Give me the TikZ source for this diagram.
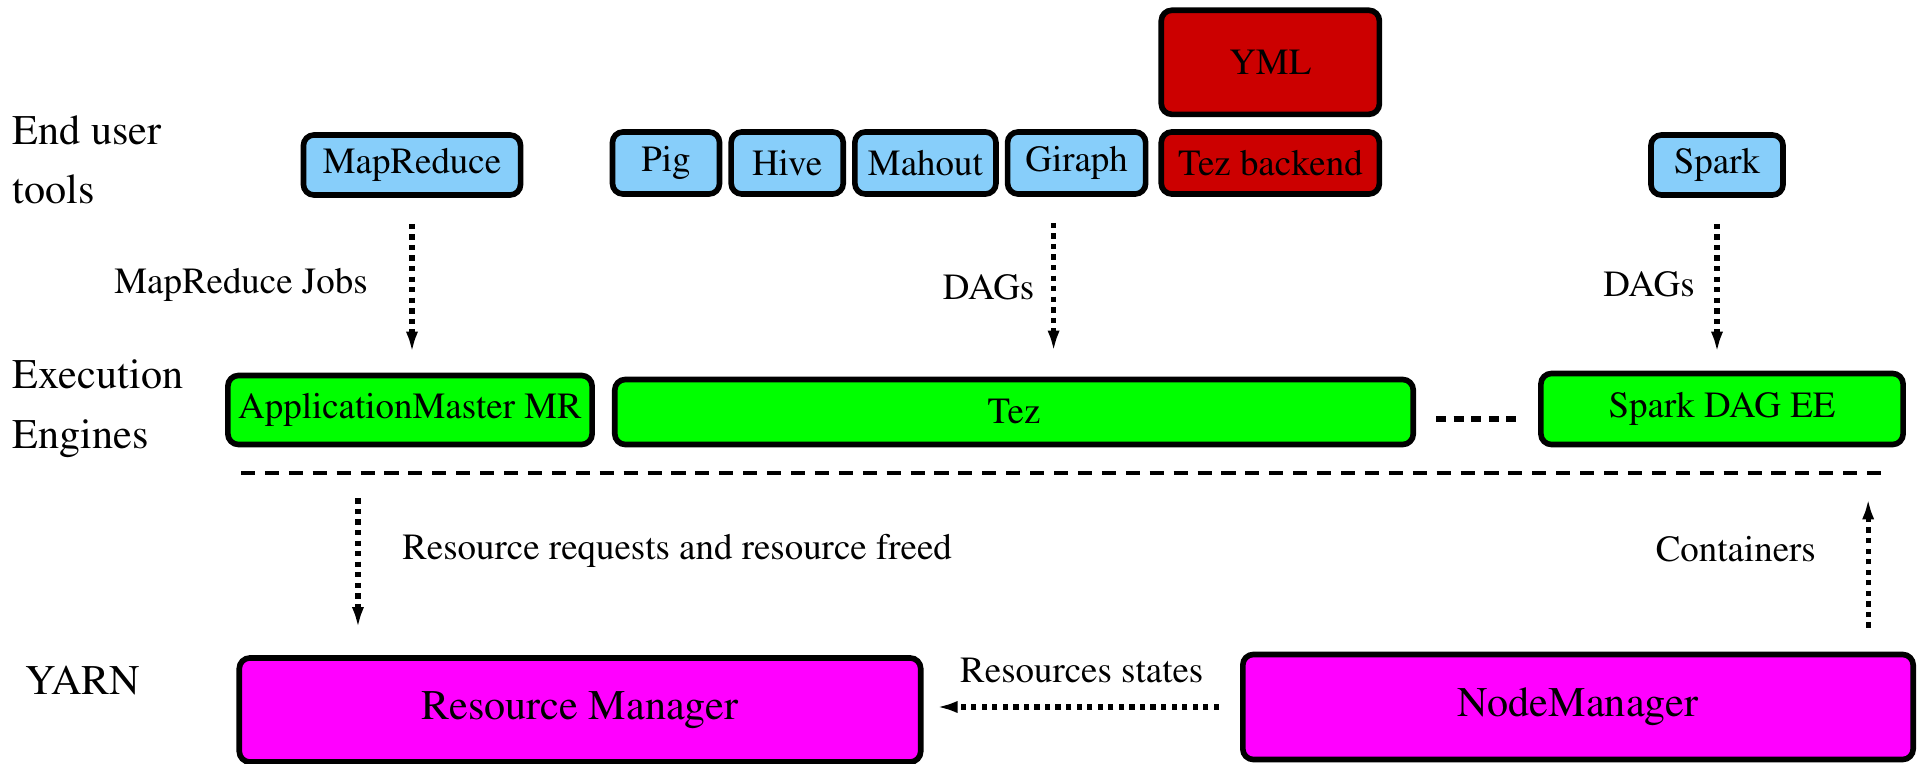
\documentclass[tikz,border=0pt]{standalone}
\usepackage[T1]{fontenc}
\usepackage{times}
\usetikzlibrary{positioning,arrows.meta}

\definecolor{toolblue}{RGB}{135,206,250}
\definecolor{tezred}{RGB}{204,0,0}
\definecolor{enginegreen}{RGB}{0,255,0}
\definecolor{yarnpink}{RGB}{255,0,255}

\begin{document}
\begin{tikzpicture}[x=0.01cm, y=-0.01cm,
	box/.style={draw, line width=1.6pt, rounded corners=3pt, inner sep=0pt, font=\fontsize{10.5}{12}\selectfont},
	tool/.style={box, fill=toolblue, minimum height=0.6cm},
	backend/.style={box, fill=tezred, minimum width=2.18cm},
	engine/.style={box, fill=enginegreen},
	yarn/.style={box, fill=yarnpink, font=\fontsize{12}{14}\selectfont},
	layer/.style={align=left, anchor=west, inner sep=0pt, font=\fontsize{12}{17}\selectfont},
	lbl/.style={font=\fontsize{10.5}{12}\selectfont},
	flow/.style={line width=1.5pt, dash pattern=on 1.5pt off 1.5pt, -{Latex[length=6pt,width=3.5pt]}},
	divider/.style={line width=1.1pt, dash pattern=on 4pt off 2.8pt}
]
	\useasboundingbox (0,0) rectangle (1921,764);

	% layer names
	\node[layer] (enduser) at (12,160) {End user\\tools};
	\node[layer] (exec) at (12,409) {Execution\\Engines};
	\node[layer] (yarnname) at (25,680) {YARN};

	% end user tools
	\node[tool, minimum width=2.17cm] (mapreduce) at (412,165) {MapReduce};
	\node[tool, minimum width=1.07cm, minimum height=0.62cm] (pig) at (666,163) {Pig};
	\node[tool, minimum width=1.12cm, minimum height=0.62cm, right=0.06cm of pig] (hive) {Hive};
	\node[tool, minimum width=1.41cm, minimum height=0.62cm, right=0.06cm of hive] (mahout) {Mahout};
	\node[tool, minimum width=1.38cm, minimum height=0.62cm, right=0.06cm of mahout] (giraph) {Giraph};
	\node[backend, minimum height=0.62cm, right=0.1cm of giraph] (backend) {Tez backend};
	\node[backend, minimum height=1.04cm, above=0.12cm of backend] (yml) {YML};
	\node[tool, minimum width=1.32cm] (spark) at (1717,165) {Spark};

	% execution engines
	\node[engine, minimum width=3.64cm, minimum height=0.69cm] (appmaster) at (410,410) {ApplicationMaster MR};
	\node[engine, minimum width=7.98cm, minimum height=0.65cm] (tez) at (1014,412) {Tez};
	\node[engine, minimum width=3.62cm, minimum height=0.71cm] (sparkdag) at (1722,409) {Spark DAG EE};

	% yarn
	\node[yarn, minimum width=6.81cm, minimum height=1.04cm] (rm) at (580,710) {Resource Manager};
	\node[yarn, minimum width=6.70cm, minimum height=1.05cm] (nm) at (1578,707) {NodeManager};

	\coordinate (divl) at (241,473);
	\coordinate (divr) at (1890,473);
	\draw[divider] (divl) -- (divr);

	\draw[line width=1.5pt, dash pattern=on 2.8pt off 2.2pt, shorten <=0.2cm, shorten >=0.21cm]
		([yshift=-0.07cm]tez.east) -- ([yshift=-0.07cm]tez.east -| sparkdag.west);

	\draw[flow, shorten <=0.26cm, shorten >=0.2cm] (mapreduce.south) -- (mapreduce.south |- appmaster.north)
		node[midway, left=0.3cm, lbl] {MapReduce Jobs};
	\draw[flow, shorten <=0.26cm, shorten >=0.25cm] ([xshift=-0.23cm]giraph.south) -- ([xshift=-0.23cm]giraph.south |- tez.north)
		node[midway, left=0.05cm, lbl] {DAGs};
	\draw[flow, shorten <=0.26cm, shorten >=0.18cm] (spark.south) -- (spark.south |- sparkdag.north)
		node[midway, left=0.08cm, lbl] {DAGs};

	\draw[flow, shorten <=0.51cm, shorten >=0.27cm] ([xshift=-0.52cm]appmaster.south) -- ([xshift=-0.52cm]appmaster.south |- rm.north)
		node[midway, right=0.3cm, lbl] {Resource requests and resource freed};
	\draw[flow, shorten <=0.24cm, shorten >=0.51cm] ([xshift=2.9cm]nm.north) -- ([xshift=2.9cm]nm.north |- sparkdag.south)
		node[midway, left=0.38cm, lbl] {Containers};
	\draw[flow, shorten <=0.21cm, shorten >=0.13cm] (nm.west) -- (nm.west -| rm.east)
		node[midway, above=0.1cm, lbl] {Resources states};
\end{tikzpicture}
\end{document}
